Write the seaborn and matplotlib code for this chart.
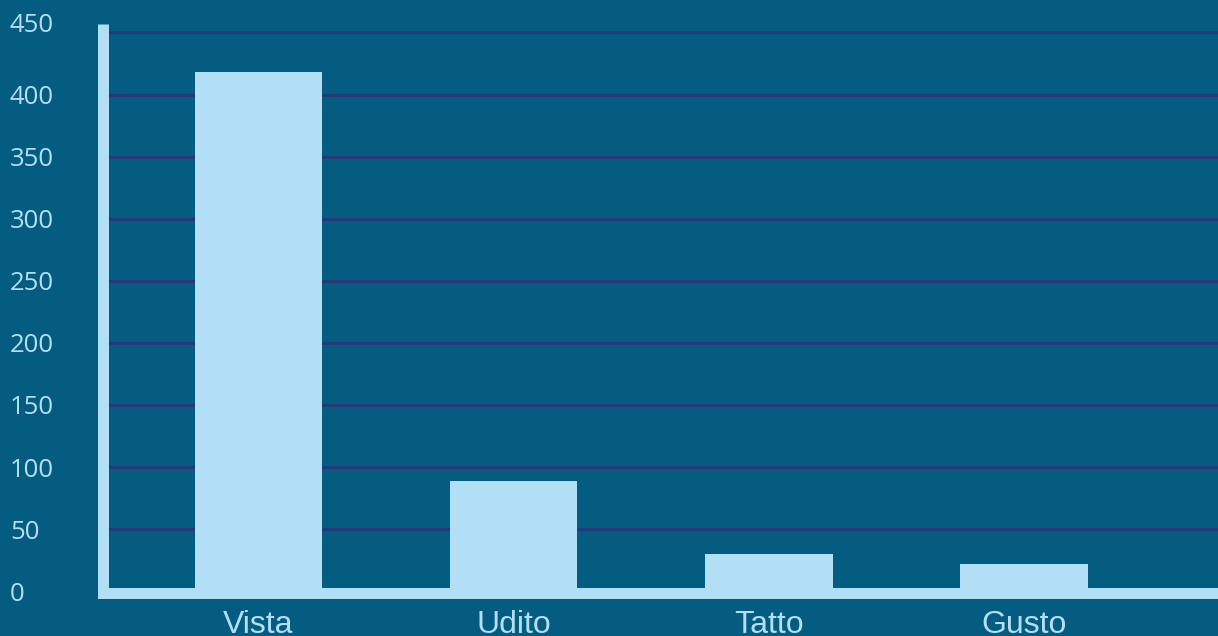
import matplotlib
matplotlib.use("Agg")
import matplotlib.pyplot as plt
import matplotlib.transforms as mtransforms
import seaborn as sns
import pandas as pd

# Data
senses = ["Vista", "Udito", "Tatto", "Gusto"]
counts = [418, 89, 30, 22]
y_ticks = [0, 50, 100, 150, 200, 250, 300, 350, 400, 450]

BG = "#055c81"
LIGHT = "#b3dff6"
GRID = "#27397a"

df = pd.DataFrame({"senso": senses, "valore": counts})

sns.set_theme(style="white")
plt.rcParams["font.family"] = ["Liberation Sans", "DejaVu Sans"]

fig = plt.figure(figsize=(12.18, 6.36), dpi=100, facecolor=BG)
ax = fig.add_axes([102.5 / 1218, 43.5 / 636, 1 - 102.5 / 1218, 568.5 / 636])
ax.set_facecolor(BG)

sns.barplot(data=df, x="senso", y="valore", color=LIGHT, saturation=1,
            width=0.5, linewidth=0, edgecolor=LIGHT, ax=ax, zorder=3)

ax.set_xlim(-0.611, 3.76)
ax.set_ylim(-1, 456.8)
ax.set_xlabel("")
ax.set_ylabel("")

# horizontal grid
ax.set_yticks(y_ticks)
ax.yaxis.grid(True, color=GRID, linewidth=2.2, zorder=1)
ax.xaxis.grid(False)
ax.set_axisbelow(True)

# spines
for side in ["top", "right"]:
    ax.spines[side].set_visible(False)
for side in ["left", "bottom"]:
    ax.spines[side].set_color(LIGHT)
    ax.spines[side].set_linewidth(7.9)
    ax.spines[side].set_zorder(5)
ax.spines["left"].set_capstyle("butt")
ax.spines["bottom"].set_capstyle("projecting")

# tick labels
ax.tick_params(axis="x", length=0, pad=12.5, labelsize=23, labelcolor=LIGHT)
ax.tick_params(axis="y", length=0, pad=66.6, labelsize=18.5, labelcolor=LIGHT)
ax.set_yticklabels([str(v) for v in y_ticks])
for lab in ax.get_yticklabels():
    lab.set_ha("left")
    lab.set_fontfamily(["Open Sans", "DejaVu Sans"])
top_lab = ax.get_yticklabels()[-1]
top_lab.set_transform(top_lab.get_transform() +
                      mtransforms.ScaledTranslation(0, 10 / 100, fig.dpi_scale_trans))

fig.savefig("out.png", dpi=100, facecolor=BG)
